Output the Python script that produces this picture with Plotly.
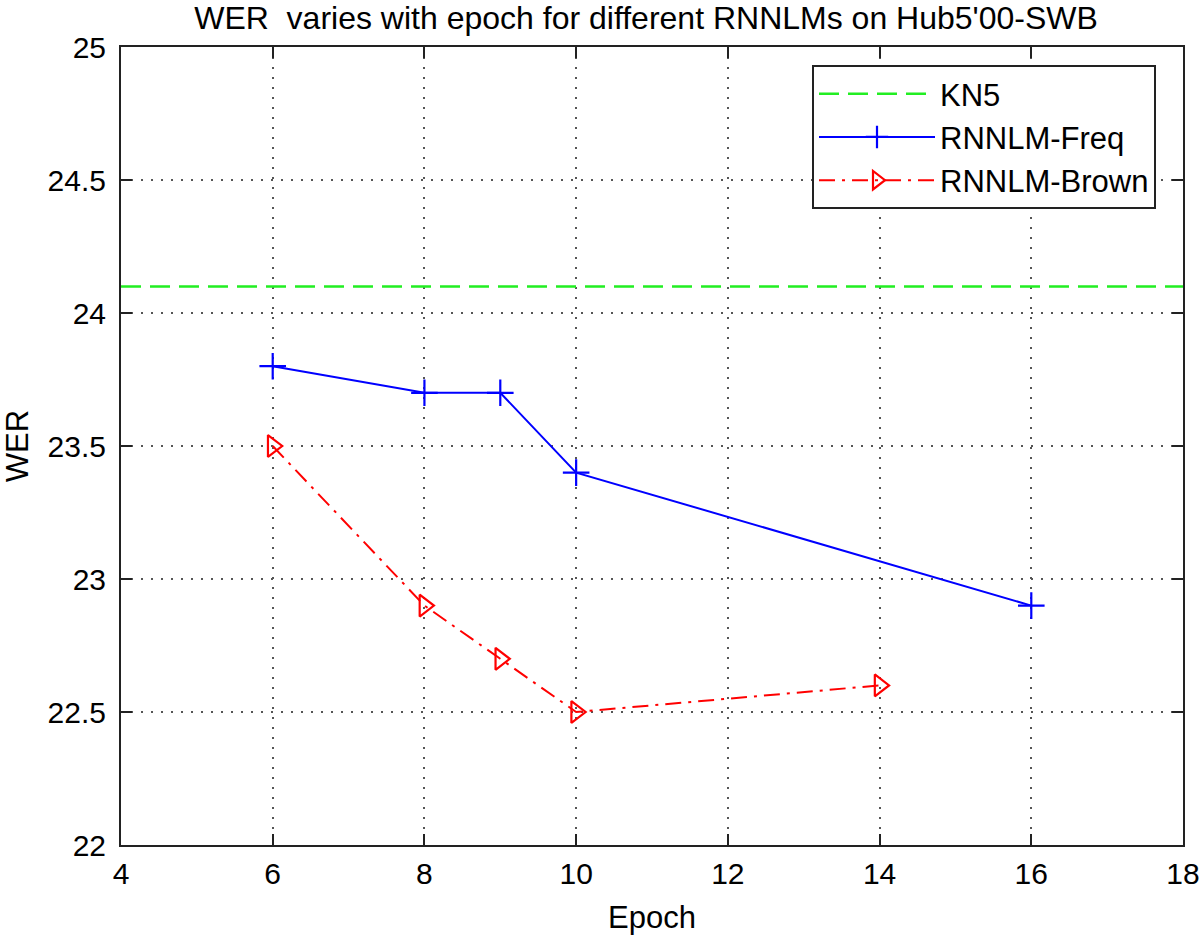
import plotly.graph_objects as go

# ---- data ----
x_range = [4, 18]
y_range = [22, 25]
kn5_x = [4, 18]
kn5_wer = [24.1, 24.1]
freq_epoch = [6, 8, 9, 10, 16]
freq_wer = [23.8, 23.7, 23.7, 23.4, 22.9]
brown_epoch = [6, 8, 9, 10, 14]
brown_wer = [23.5, 22.9, 22.7, 22.5, 22.6]

FONT = "Liberation Sans, Arial, Helvetica, sans-serif"

fig = go.Figure()
fig.add_trace(go.Scatter(
    x=kn5_x, y=kn5_wer, mode="lines", name="KN5",
    line=dict(color="#22ee22", width=2.5, dash="20px,9px"),
))
fig.add_trace(go.Scatter(
    x=freq_epoch, y=freq_wer, mode="lines+markers", name="RNNLM-Freq",
    line=dict(color="#0000ff", width=2),
    marker=dict(symbol="cross-thin-open", size=19, color="#0000ff",
                line=dict(color="#0000ff", width=2.2)),
))
fig.add_trace(go.Scatter(
    x=brown_epoch, y=brown_wer, mode="lines+markers", name="RNNLM-Brown",
    line=dict(color="#ff0000", width=2, dash="16px,7px,3px,7px"),
    marker=dict(symbol="triangle-right-open", size=19, color="#ff0000",
                line=dict(color="#ff0000", width=2.2)),
))

axis_common = dict(
    showline=True, linecolor="#222222", linewidth=2, mirror="ticks",
    ticks="inside", ticklen=11, tickwidth=2, tickcolor="#222222",
    showgrid=True, gridcolor="#555555", gridwidth=1.6, griddash="2px,8px",
    zeroline=False, automargin=False,
    tickfont=dict(family=FONT, size=30, color="black"),
)

fig.update_layout(
    width=1200, height=935,
    margin=dict(l=121, r=17, t=47, b=90, autoexpand=False),
    paper_bgcolor="white", plot_bgcolor="white",
    font=dict(family=FONT, color="black"),
    title=dict(
        text="WER  varies with epoch for different RNNLMs on Hub5'00-SWB",
        font=dict(family=FONT, size=32, color="black"),
        x=(646 - 121) / 1062, xref="paper", xanchor="center",
        y=1 - 18 / 935, yref="container", yanchor="middle",
        automargin=False,
    ),
    xaxis=dict(
        range=x_range, dtick=2, tick0=4,
        title=dict(text="Epoch", font=dict(family=FONT, size=31), standoff=19),
        ticklabelstandoff=1,
        **axis_common,
    ),
    yaxis=dict(
        range=y_range, dtick=0.5, tick0=22,
        title=dict(text="WER", font=dict(family=FONT, size=31), standoff=19),
        ticklabelstandoff=7,
        **axis_common,
    ),
    legend=dict(
        x=(812 - 121) / 1062, y=(845.5 - 65) / 798.5,
        xanchor="left", yanchor="top",
        bgcolor="white", bordercolor="#222222", borderwidth=2,
        font=dict(family=FONT, size=31, color="black"),
        itemwidth=116, tracegroupgap=0,
    ),
    showlegend=True,
)

fig.write_html("out.html", config={"displayModeBar": False},
               post_script="document.body.style.margin='0px';")
